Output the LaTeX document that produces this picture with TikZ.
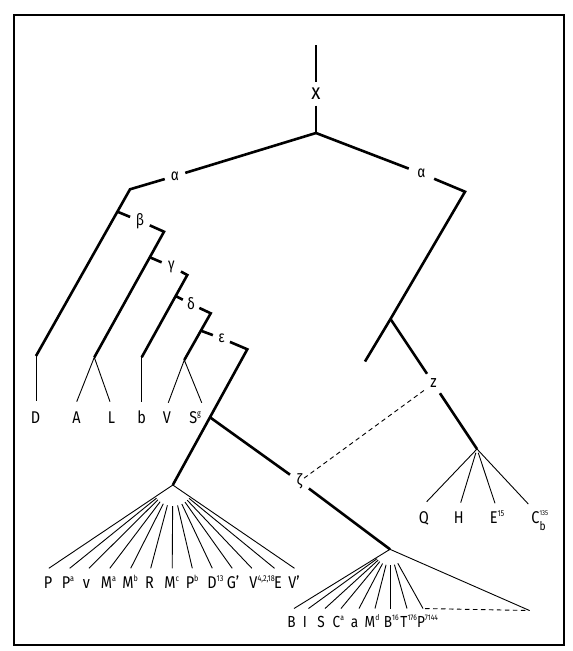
\documentclass[tikz,border=0pt]{standalone}
\usepackage{fontspec}
\setmainfont{Fira Sans}[FakeStretch=0.85]
\newcommand\supx[1]{\rlap{\raisebox{7pt}{\fontsize{8.5}{8.5}\selectfont #1}}}
\newcommand\supy[1]{\rlap{\raisebox{6.5pt}{\fontsize{8}{8}\selectfont #1}}}
\begin{document}
\begin{tikzpicture}[x=1pt,y=-1pt,
  thk/.style={line width=2.6pt},
  thn/.style={line width=0.9pt},
  gapn/.style={circle,inner sep=0pt,minimum size=#1,font=\fontsize{16}{16}\selectfont},
  leaf/.style={anchor=base,inner sep=0pt,font=\fontsize{17}{17}\selectfont},
  leafb/.style={anchor=base,inner sep=0pt,font=\fontsize{16}{16}\selectfont},
  dsh/.style={line width=0.9pt,dash pattern=on 4.5pt off 3.5pt}]
\useasboundingbox (0,0) rectangle (573,651);
\node[draw,line width=1.2pt,inner sep=0pt,minimum width=550pt,minimum height=630pt] (frame) at (289,330) {};
% root
\coordinate (top) at (316,45);
\node[gapn=23pt,font=\fontsize{22}{22}\selectfont] (x) at (316,94) {x};
\coordinate (r0) at (316,133);
\draw[thk] (top) -- (x);
\draw[thk] (x) -- (r0);
% left alpha branch
\node[gapn=21pt] (al) at (175,176) {α};
\coordinate (c1) at (130,189.3);
\coordinate (d0) at (36,356);
\draw[thk] (r0) -- (al);
\draw[thk] (al) -- (c1) -- (d0);
% beta
\coordinate (tb) at (117.4,211.7);
\node[gapn=21pt] (be) at (140,221) {β};
\coordinate (c2) at (164,231.7);
\coordinate (al0) at (94.3,357.3);
\draw[thk] (tb) -- (be);
\draw[thk] (be) -- (c2) -- (al0);
% gamma
\coordinate (tg) at (149.8,257.3);
\node[gapn=21pt] (ga) at (171.5,266.5) {γ};
\coordinate (c3) at (187.3,275);
\coordinate (b0) at (141.7,357.3);
\draw[thk] (tg) -- (ga);
\draw[thk] (ga) -- (c3) -- (b0);
% delta
\coordinate (td) at (175.7,296);
\node[gapn=18pt] (de) at (191,304) {δ};
\coordinate (c4) at (210.7,313.3);
\coordinate (vs0) at (184.3,360);
\draw[thk] (td) -- (de);
\draw[thk] (de) -- (c4) -- (vs0);
% epsilon
\coordinate (te) at (200.9,330.7);
\node[gapn=18pt] (ep) at (221.5,338.3) {ε};
\coordinate (c5) at (247.3,349.3);
\coordinate (j) at (210,417.3);
\coordinate (f1) at (172.8,485);
\draw[thk] (te) -- (ep);
\draw[thk] (ep) -- (c5) -- (f1);
% zeta
\node[gapn=23pt] (ze) at (299.5,481.5) {ζ};
\coordinate (f2) at (390,549.3);
\draw[thk] (j) -- (ze);
\draw[thk] (ze) -- (f2);
% right alpha branch
\node[gapn=27pt] (ar) at (421.5,173.5) {α};
\coordinate (c6) at (465,191.7);
\coordinate (rf) at (390.5,319);
\coordinate (rl) at (365,361.5);
\draw[thk] (r0) -- (ar);
\draw[thk] (ar) -- (c6) -- (rf) -- (rl);
\node[gapn=23pt,font=\fontsize{17}{17}\selectfont] (zz) at (433.5,383.5) {z};
\coordinate (f3) at (477,449);
\draw[thk] (rf) -- (zz);
\draw[thk] (zz) -- (f3);
\draw[dsh,shorten <=-6pt] (ze) -- (zz);
% leaves of the upper row
\coordinate (dt) at (36,401);
\coordinate (at) at (76.7,401.7);
\coordinate (lt) at (110,401.7);
\coordinate (bt) at (141.7,401.7);
\coordinate (vt) at (168.3,402.7);
\coordinate (st) at (201.7,402.7);
\draw[thn] (d0) -- (dt);
\draw[thn] (at) -- (al0) -- (lt);
\draw[thn] (b0) -- (bt);
\draw[thn] (vt) -- (vs0) -- (st);
\node[leaf] (lD) at (35.5,423.3) {D};
\node[leaf] (lA) at (76.5,423.3) {A};
\node[leaf] (lL) at (111.5,423.3) {L};
\node[leaf] (lb) at (141.7,423.3) {b};
\node[leaf] (lV) at (167,423.3) {V};
\node[leaf] (lS) at (193.3,423.3) {S\supx{g}};
% first fan
\foreach \n/\bx/\lx/\t [count=\i] in {p/48.8/48/P, pa/69.7/66/{P\supx{a}}, v/88.9/86.5/v,
   ma/109.8/106.5/{M\supx{a}}, mb/130.7/128/{M\supx{b}}, r/150.7/149.5/R,
   mc/172.2/170/{M\supx{c}}, pb/192.3/190/{P\supx{b}}, d/212.3/212/{D\supx{13}},
   g/232.2/233/{G'}, vv/251.9/253.5/{V\supx{4,2,18}}, e/274.5/278/E, vi/294.5/294/{V'}}{
  \coordinate (e1\n) at (\bx,568.3);
  \node[leaf] (l1\n) at (\lx,588.3) {\t};
  \ifnum\i=1 \draw[thn] (f1) -- (e1\n);
  \else\ifnum\i=13 \draw[thn] (f1) -- (e1\n);
  \else \draw[thn,shorten <=21pt] (f1) -- (e1\n); \fi\fi
}
% second fan
\foreach \n/\bx/\lx/\t [count=\i] in {b/294/291.5/B, i/308.5/305/I, s/325/321/S,
   c/341/336.5/{C\supy{a}}, a/359/354.5/a, m/375/370/{M\supy{d}}, bb/390/388/{B\supy{16}},
   t/407/404/{T\supy{176}}, p/423/421/{P\supy{7144}}}{
  \coordinate (e2\n) at (\bx,608.5);
  \node[leafb] (l2\n) at (\lx,627) {\t};
  \ifnum\i=1 \draw[thn] (f2) -- (e2\n);
  \else \draw[thn,shorten <=16pt] (f2) -- (e2\n); \fi
}
\coordinate (tr) at (529.5,610.5);
\draw[thn] (f2) -- (tr);
\draw[dsh,shorten <=2pt] (e2p) -- (tr);
% third fan
\coordinate (eq) at (426.7,501.7);
\coordinate (eh) at (460.7,502.7);
\coordinate (ee) at (495,503.3);
\coordinate (ec) at (528.3,504);
\draw[thn] (f3) -- (eq);
\draw[thn,shorten <=4pt] (f3) -- (eh);
\draw[thn,shorten <=4pt] (f3) -- (ee);
\draw[thn] (f3) -- (ec);
\node[leaf] (lQ) at (423.8,523.5) {Q};
\node[leaf] (lH) at (458.7,523.5) {H};
\node[leaf] (lE) at (493.7,523.5) {E\supx{15}};
\node[leaf] (lC) at (535.5,523.5) {C\rlap{\raisebox{-6.5pt}{\fontsize{12}{12}\selectfont b}}\rlap{\raisebox{8.5pt}{\fontsize{7}{7}\selectfont 135}}};
\end{tikzpicture}
\end{document}
